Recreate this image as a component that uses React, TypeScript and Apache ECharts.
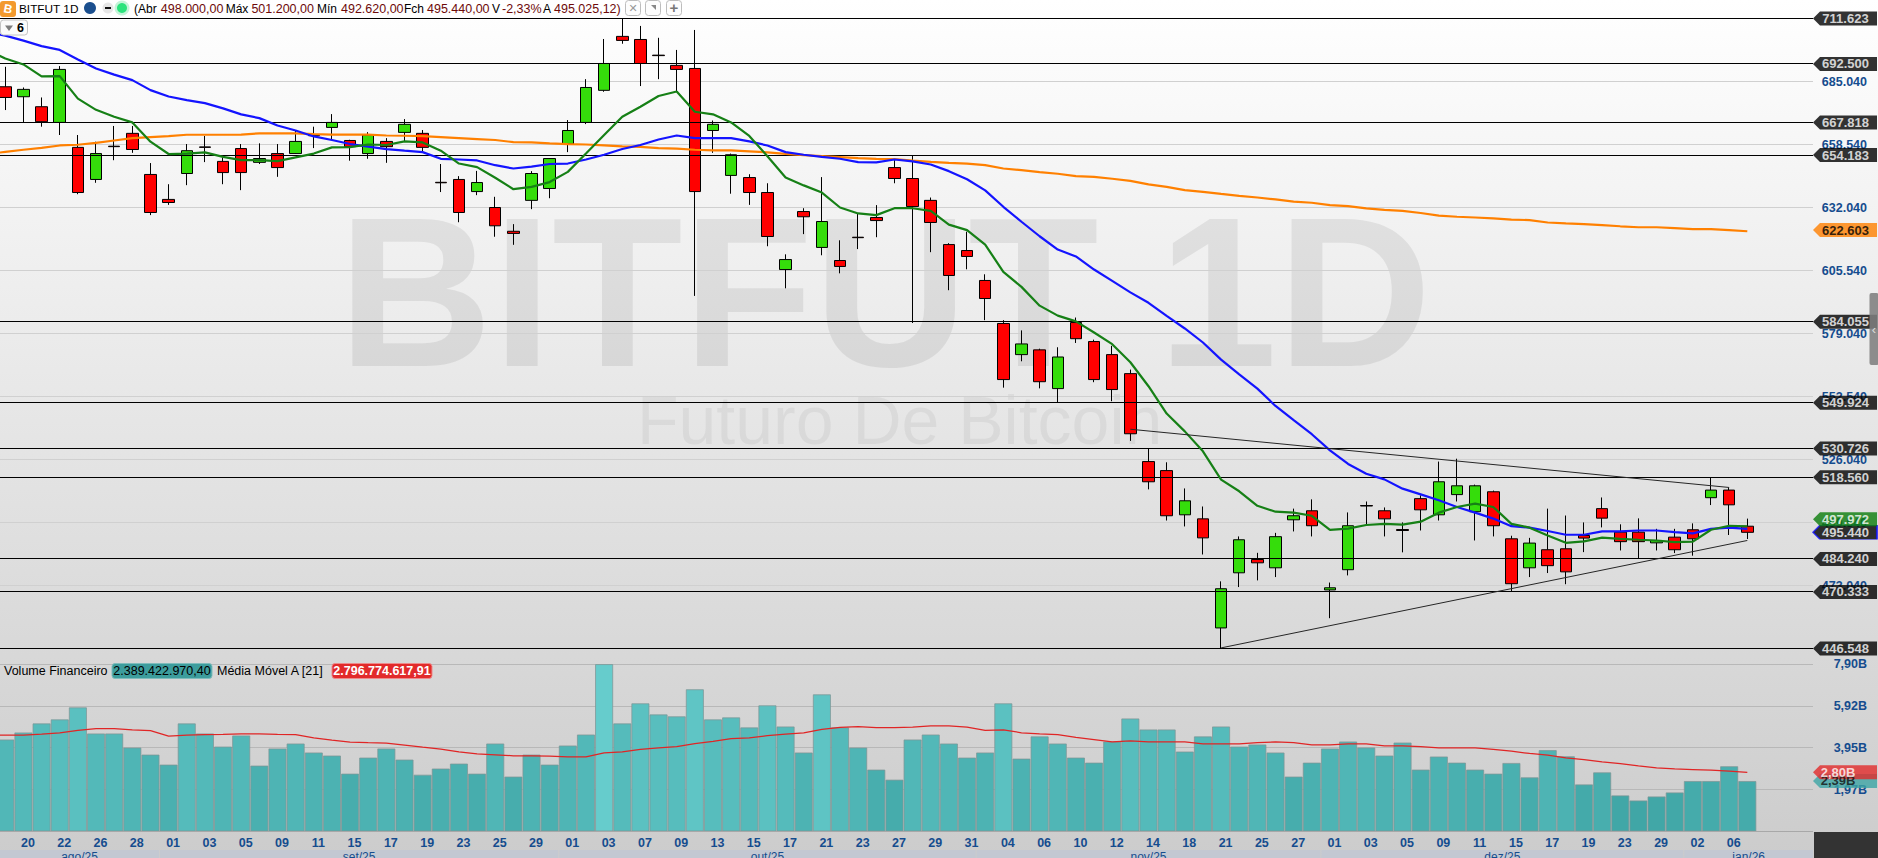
import React, { useEffect, useRef } from "react";
import * as echarts from "echarts";

const dates = ["19","20","21","22","25","26","27","28","29","01","02","03","04","05","08","09","10","11","12","15","16","17","18","19","22","23","24","25","26","29","30","01","02","03","06","07","08","09","10","13","14","15","16","17","20","21","22","23","24","27","28","29","30","31","03","04","05","06","07","10","11","12","13","14","17","18","19","21","24","25","26","27","28","01","02","03","04","05","08","09","10","11","12","15","16","17","18","19","22","23","26","29","30","02","05","06","07"];

// open, close, low, high (thousands of points)
const candles = [
[682.9,678.4,673.1,691.3],[678.7,681.8,667.9,682.6],[674.5,668.2,666.1,678.4],[667.9,690.2,662.6,691.6],[657.4,638.4,637.7,662.6],
[643.9,654.8,642.5,659.8],[657.9,657.7,652.0,666.4],[663.3,656.5,655.1,666.4],[646.0,630.0,628.9,650.8],[635.5,634.2,633.2,641.9],
[646.4,656.0,641.5,658.8],[657.6,657.4,651.2,662.2],[651.5,646.8,641.9,653.2],[656.9,646.8,639.4,658.8],[651.1,652.7,650.4,659.1],
[654.8,648.9,645.0,658.8],[654.8,659.9,654.6,664.4],[662.5,662.3,657.1,666.1],[665.8,667.9,660.7,671.4],[660.3,657.7,651.8,660.6],
[654.8,662.6,652.6,663.8],[659.9,657.7,650.9,661.3],[663.7,667.1,659.9,669.3],[663.3,657.4,655.4,664.7],[642.7,642.5,638.6,650.4],
[643.9,630.0,625.9,645.3],[638.8,642.6,637.3,647.5],[632.1,624.4,619.8,636.6],[622.1,621.2,616.4,625.1],[635.1,646.4,631.4,647.4],
[640.1,652.7,636.0,652.9],[658.8,664.5,655.4,668.9],[667.9,682.6,667.2,686.1],[681.4,692.7,680.8,703.0],[704.1,702.4,701.0,711.6],
[702.8,692.7,683.2,708.5],[696.2,696.0,686.1,703.5],[691.9,690.2,680.8,698.4],[690.6,638.8,594.9,706.8],[664.5,667.1,655.1,668.7],
[645.6,654.3,637.9,654.8],[644.7,638.4,633.2,646.1],[638.4,619.9,615.8,642.3],[606.0,610.2,598.1,612.4],[630.4,628.2,620.9,631.8],
[615.3,626.2,612.0,644.9],[609.8,607.3,604.4,618.3],[619.6,619.4,614.6,629.6],[627.9,626.6,619.6,633.1],[648.9,644.3,642.3,652.6],
[644.3,632.5,583.5,654.0],[635.1,625.8,613.3,636.3],[616.5,603.5,597.3,617.1],[614.0,611.5,606.1,621.9],[601.4,593.8,584.7,604.0],
[583.3,559.7,556.3,584.7],[570.2,574.7,567.4,580.4],[572.2,558.8,556.0,572.7],[555.9,569.2,550.1,573.3],[583.7,576.9,575.1,585.8],
[575.7,559.7,558.6,576.5],[570.2,555.5,550.6,573.9],[562.2,536.9,533.9,563.9],[525.2,516.7,513.5,530.5],[521.4,502.4,500.4,524.9],
[502.8,508.7,497.9,513.9],[501.1,493.1,486.1,506.3],[455.2,471.7,446.5,474.8],[478.4,492.3,472.4,493.7],[484.0,482.6,475.2,486.8],
[480.5,493.6,476.6,495.2],[500.7,502.4,495.8,505.4],[504.5,498.2,493.7,509.3],[471.2,472.1,459.3,474.3],[479.7,498.2,477.3,503.8],
[506.7,506.5,498.2,508.4],[504.5,501.1,493.7,505.9],[496.6,496.2,487.0,499.6],[509.6,504.9,496.2,511.0],[502.8,516.7,500.4,525.2],
[511.3,515.0,508.4,526.4],[504.1,515.0,492.0,515.5],[512.5,498.2,493.7,513.0],[492.7,473.8,470.5,494.0],[480.5,490.9,476.6,493.1],
[488.1,481.4,478.3,505.4],[488.5,478.8,473.6,502.5],[494.1,493.0,487.1,499.6],[505.4,501.4,497.5,510.1],[495.5,491.5,487.8,498.8],
[495.5,491.5,484.4,501.3],[491.0,492.0,487.8,496.9],[493.4,488.1,486.7,496.9],[496.5,492.7,485.6,499.2],[510.0,513.2,506.9,518.3],
[513.2,507.0,494.3,514.3],[498.0,495.44,492.62,501.2],
];

// the three averages also have a point one bar before the first visible candle
const maGreen = [698.4,694.8,692.3,687.3,687.4,677.9,673.2,670.3,667.9,659.8,654.6,654.8,655.3,653.4,652.0,652.0,651.6,653.2,654.8,657.4,657.5,658.6,658.4,659.9,659.5,656.0,650.6,649.1,644.6,639.8,640.8,642.8,647.1,654.8,662.6,670.3,674.5,679.0,680.9,672.4,671.3,667.9,662.2,653.7,644.7,641.4,638.4,632.1,629.6,628.9,631.8,631.8,630.7,624.9,622.6,616.5,605.0,598.7,590.8,586.6,584.2,579.5,574.6,567.0,556.9,545.4,537.9,529.5,517.6,512.7,506.6,504.1,503.7,502.4,496.5,497.0,498.5,499.0,498.7,499.9,503.7,506.1,507.5,506.1,499.0,497.4,494.1,491.0,491.6,493.2,492.7,492.3,492.0,491.3,491.5,496.5,498.2,497.97];
const maBlue = [706.0,704.4,702.3,700.0,698.4,694.4,690.6,688.0,685.7,681.5,678.8,677.3,676.0,673.8,671.3,669.7,666.6,664.5,662.0,660.5,658.8,657.7,656.7,656.0,655.4,652.6,652.3,651.9,649.9,648.5,649.3,650.4,650.6,652.3,654.3,656.7,658.4,660.7,662.4,661.3,661.3,661.3,659.9,658.2,655.4,654.3,653.4,652.6,651.2,651.1,652.3,651.5,650.2,647.4,644.0,639.3,632.4,626.1,620.0,614.4,611.5,606.0,601.2,596.4,592.0,586.5,581.2,575.3,568.1,561.9,555.9,548.6,542.6,536.7,529.9,524.2,520.1,517.7,513.8,511.4,508.9,506.1,503.7,501.2,498.0,497.4,496.0,494.4,494.4,495.8,495.8,496.2,496.2,495.5,495.0,496.9,497.4,496.9];
const maOrange = [654.6,655.5,656.4,657.2,658.2,658.5,659.3,660.3,661.3,661.7,662.1,662.7,662.7,662.7,662.8,663.3,663.3,663.3,663.0,662.8,662.8,662.8,662.4,662.3,662.1,661.7,661.3,660.9,660.5,659.6,659.5,659.1,658.8,658.6,658.2,657.8,657.6,657.1,656.9,656.4,656.1,656.1,655.7,655.3,654.7,654.1,653.7,653.3,652.9,652.6,652.5,651.8,651.3,650.9,650.6,649.9,648.5,647.8,647.0,646.3,645.3,645.0,644.2,643.3,641.8,640.8,639.4,638.7,637.8,637.0,636.3,635.5,634.6,634.1,633.1,632.7,631.7,631.1,630.7,629.8,628.7,628.2,627.9,627.5,627.0,626.8,625.8,625.4,625.1,624.7,624.2,623.8,623.8,623.4,623.0,623.0,622.6,622.1];

// in billions
const volumes = [4.355,4.687,5.115,5.305,5.875,4.64,4.64,3.975,3.64,3.167,5.115,4.64,4.02,4.545,3.12,3.93,4.165,3.74,3.595,2.74,3.5,3.93,3.405,2.69,2.98,3.215,2.74,4.165,2.6,3.64,3.167,4.07,4.59,7.92,5.115,6.065,5.54,5.45,6.73,5.305,5.4,4.925,5.97,4.97,3.74,6.49,4.925,3.975,2.93,2.455,4.355,4.59,4.165,3.5,3.74,6.065,3.45,4.5,4.165,3.5,3.26,4.26,5.35,4.83,4.83,3.785,4.5,4.97,4.02,4.12,3.74,2.6,3.26,3.93,4.26,3.975,3.595,4.21,2.93,3.55,3.26,2.93,2.74,3.245,2.565,3.85,3.56,2.23,2.8,1.71,1.47,1.66,1.85,2.39,2.39,3.09,2.39];
const volumeMA = [4.56,4.56,4.56,4.61,4.67,4.78,4.86,4.86,4.81,4.77,4.51,4.56,4.58,4.59,4.62,4.62,4.59,4.58,4.43,4.32,4.23,4.2,4.18,4.09,3.99,3.9,3.77,3.67,3.63,3.58,3.58,3.56,3.53,3.53,3.72,3.77,3.88,3.96,4.01,4.16,4.26,4.39,4.43,4.53,4.61,4.66,4.83,4.92,4.96,4.91,4.91,4.94,4.99,4.99,4.94,4.78,4.81,4.67,4.62,4.58,4.45,4.35,4.24,4.29,4.24,4.24,4.24,4.15,4.15,4.15,4.2,4.24,4.2,4.1,4.1,4.15,4.15,4.05,4.05,4.01,3.96,3.96,3.96,3.88,3.8,3.69,3.61,3.48,3.4,3.29,3.21,3.1,3.01,2.96,2.93,2.9,2.85,2.8];

const levels = [711.623,692.5,667.818,654.183,584.055,549.924,530.726,518.56,484.24,470.333,446.548];
const priceTicks = [685.04,658.54,632.04,605.54,579.04,552.54,526.04,499.54,473.04];
const volumeTicks = [7.9,5.925,3.95,1.975];
const volumeTickLabels = ["7,90B","5,92B","3,95B","1,97B"];
const trendHigh = [[62,538.8],[95,514.3]];
const trendLow = [[67,446.8],[96,492.0]];
const months = ["ago/25","set/25","out/25","nov/25","dez/25","jan/26"];
const monthStartBars = [-1,9,31,54,73,93];

const FONT = '"Liberation Sans"';
const SLOT = 18.146;
const FIRST_X = 5.3;
const LEAD = 1;
const TAIL = 3;
const PLOT_R = 1813;
const PRICE_TOP = 18.5, PRICE_H = 630;
const VOL_TOP = 653.9, VOL_H = 177.6;
const BLUE = "#154c8e";

const tagPath = "path://M0 7L7 0H64V14H7Z";

const T = (text: string, x: number, y: number, o: any = {}) => ({
  type: "text", z: o.z ?? 50, silent: true, x: 0, y: 0, rotation: 0,
  style: { text, x, y, fill: o.fill ?? "#000", fontFamily: o.family ?? FONT, fontSize: o.size ?? 12.5, fontWeight: o.weight ?? "normal", textAlign: o.align ?? "left", textVerticalAlign: "middle" },
});
const R = (x: number, y: number, w: number, h: number, fill: string, o: any = {}) => ({
  type: "rect", z: o.z ?? 49, silent: true, shape: { x, y, width: w, height: h, r: o.r ?? 0 },
  style: { fill, stroke: o.stroke, lineWidth: o.stroke ? 1 : 0, opacity: o.opacity ?? 1 },
});

const hLineSeries = (values: number[], xi: number, color: string, z: number) => ({
  type: "custom", xAxisIndex: xi, yAxisIndex: xi, z, silent: true, clip: false,
  data: values.map((v) => [0, v]),
  renderItem: (params: any, api: any) => {
    const y = Math.floor(api.coord([0, api.value(1)])[1]) + 0.5;
    const cs = params.coordSys;
    return { type: "line", shape: { x1: cs.x, y1: y, x2: cs.x + cs.width, y2: y }, style: { stroke: color, lineWidth: 1 } };
  },
});

const tagItem = (v: number, text: string, fill: string, color: string, dy = 0, extra: any = {}) => ({
  value: [1, v], symbolOffset: [32, dy],
  itemStyle: { color: fill, ...(extra.border ? { borderColor: extra.border, borderWidth: 1 } : {}) },
  label: { show: true, position: "inside", formatter: text, color, fontFamily: FONT, fontWeight: "bold", fontSize: 13, offset: extra.offset ?? [0.5, 0] },
});

const buildGraphic = () => {
  const g: any[] = [];
  // watermark
  g.push({ ...T("BITFUT 1D", 338, 291, { size: 214, weight: "bold", fill: "rgba(0,0,0,0.075)" }), z: 0 });
  g.push({ ...T("Futuro De Bitcoin", 637, 420, { size: 68, fill: "rgba(0,0,0,0.05)" }), z: 0 });
  // header
  g.push(R(0, 1, 16, 16, "#f39a2e", { r: 3 }));
  g.push({ type: "text", z: 50, silent: true, x: 8, y: 9, rotation: -0.2, style: { text: "B", x: 0, y: 0, fill: "#fff", fontFamily: FONT, fontSize: 12, fontWeight: "bold", textAlign: "center", textVerticalAlign: "middle" } });
  g.push(T("BITFUT 1D", 19, 8.5, { size: 11.8 }));
  g.push({ type: "circle", z: 49, silent: true, shape: { cx: 90, cy: 8, r: 6 }, style: { fill: "#1b4f8e" } });
  g.push({ type: "circle", z: 49, silent: true, shape: { cx: 108, cy: 8, r: 5.5 }, style: { fill: "#e6e6e6" } });
  g.push(R(105, 7, 6, 2, "#111"));
  g.push({ type: "circle", z: 49, silent: true, shape: { cx: 122, cy: 8, r: 7.5 }, style: { fill: "#c4f4d8" } });
  g.push({ type: "circle", z: 49, silent: true, shape: { cx: 122, cy: 8, r: 5 }, style: { fill: "#2be37c" } });
  const dark = "#6e0a0a";
  const header: [string, number, string][] = [["(Abr",134,"#000"],["498.000,00",160.8,dark],["Máx",225.7,"#000"],["501.200,00",251.4,dark],["Mín",317,"#000"],["492.620,00",341,dark],["Fch",404,"#000"],["495.440,00",427,dark],["V",492,"#000"],["-2,33%",502,dark],["A",543,"#000"],["495.025,12)",554,dark]];
  header.forEach(([t, x, c]) => g.push(T(t, x, 8.5, { fill: c, size: t.length < 5 ? 12 : 12.5 })));
  // toolbar buttons
  [625.5, 645.5, 666.5].forEach((x) => g.push(R(x, 0.5, 15, 15, "#fdfdfd", { stroke: "#bdbdbd", r: 3 })));
  g.push(T("✕", 633, 8, { size: 11, fill: "#999", align: "center", family: '"DejaVu Sans"' }));
  g.push({ type: "polygon", z: 50, silent: true, shape: { points: [[651, 5], [656, 5], [656, 10]] }, style: { fill: "#888" } });
  g.push(T("+", 674, 7.5, { size: 15, weight: "bold", fill: "#777", align: "center" }));
  // collapsed-indicators button
  g.push(R(0.5, 20, 27, 15, "#fbfbfb", { stroke: "#c4c4c4", r: 3 }));
  g.push({ type: "polygon", z: 50, silent: true, shape: { points: [[5, 25.5], [13, 25.5], [9, 31]] }, style: { fill: "#7d7d7d" } });
  g.push(T("6", 17, 28, { weight: "bold", size: 12.5 }));
  // volume legend
  g.push(T("Volume Financeiro", 4, 670.5, { size: 12.5 }));
  g.push(R(112, 663.5, 100, 15, "#3d9d9d", { r: 3, stroke: "#7fbcbc" }));
  g.push(T("2.389.422.970,40", 162, 671, { size: 12.5, align: "center" }));
  g.push(T("Média Móvel A [21]", 217, 670.5, { size: 12.5 }));
  g.push(R(332, 663.5, 100, 15, "#e22a2a", { r: 3, stroke: "#ee8a8a" }));
  g.push(T("2.796.774.617,91", 382, 671, { size: 12.5, align: "center", fill: "#fff", weight: "bold" }));
  // month strip
  monthStartBars.forEach((b, i) => {
    const barX = (n: number) => FIRST_X - SLOT / 2 + n * SLOT;
    const x0 = i === 0 ? 0 : barX(b) + 0.5;
    const x1 = i === months.length - 1 ? PLOT_R : barX(monthStartBars[i + 1]) - 0.5;
    g.push(R(x0, 850, x1 - x0, 8, "#c3c8d2", { z: 5 }));
    g.push(T(months[i], (x0 + x1) / 2, 857, { size: 12, fill: BLUE, align: "center", z: 6 }));
  });
  g.push(R(1814, 832, 64, 26, "#333333", { z: 5 }));
  // side handle
  g.push(R(1869.5, 293, 9, 72, "#7e7e7e", { r: 2, z: 60, opacity: 0.88 }));
  g.push(T("‹", 1874, 329, { size: 13, fill: "#ddd", align: "center", z: 61 }));
  return g;
};

function App() {
  const ref = useRef<HTMLDivElement>(null);
  useEffect(() => {
    document.body.style.margin = "0";
    document.body.style.overflow = "hidden";
    const chart = echarts.init(ref.current!, null, { renderer: "svg" });
    const left = FIRST_X - (LEAD + 0.5) * SLOT;
    const count = LEAD + dates.length + TAIL;
    const width = count * SLOT;
    const cats = [...Array(LEAD).fill(""), ...dates, ...Array(TAIL).fill("")];
    const lead = Array(LEAD).fill("-");
    const volColor = (v: number) => {
      const t = Math.max(0, Math.min(1, (v - 1.5) / 6.4));
      const mix = (a: number, b: number) => Math.round(a + (b - a) * t);
      return `rgb(${mix(64, 102)},${mix(166, 204)},${mix(166, 204)})`;
    };
    const ma = (data: number[], color: string, z: number) => ({
      type: "line", xAxisIndex: 0, yAxisIndex: 0, data, symbol: "none", z, silent: true,
      lineStyle: { color, width: 2.2 },
    });
    const trend = (pts: number[][]) => ({
      type: "line", xAxisIndex: 0, yAxisIndex: 0, symbol: "none", z: 7, silent: true,
      data: pts.map(([i, v]) => [i + LEAD, v]), lineStyle: { color: "#262626", width: 1 },
    });
    const hiddenX = (gridIndex: number) => ({ type: "value", gridIndex, min: 0, max: 1, show: false });
    const gridBase = { outerBoundsMode: "none", containLabel: false };
    chart.setOption({
      animation: false,
      backgroundColor: "transparent",
      grid: [
        { ...gridBase, left, width, top: PRICE_TOP, height: PRICE_H },
        { ...gridBase, left: 0, width: PLOT_R, top: PRICE_TOP, height: PRICE_H },
        { ...gridBase, left, width, top: VOL_TOP, height: VOL_H },
        { ...gridBase, left: 0, width: PLOT_R, top: VOL_TOP, height: VOL_H },
      ],
      xAxis: [
        { type: "category", gridIndex: 0, data: cats, show: false, boundaryGap: true },
        hiddenX(1),
        {
          type: "category", gridIndex: 2, data: cats, boundaryGap: true,
          axisLine: { show: false }, axisTick: { show: false },
          axisLabel: {
            interval: (i: number) => i >= LEAD && i < LEAD + dates.length && (i - LEAD) % 2 === 1,
            color: BLUE, fontFamily: FONT, fontSize: 12.5, fontWeight: "bold", margin: 5, padding: [0, 0, 0, 9],
          },
        },
        hiddenX(3),
      ],
      yAxis: [
        { type: "value", gridIndex: 0, min: 446.548, max: 711.623, show: false },
        {
          type: "value", gridIndex: 1, min: 446.548, max: 711.623, position: "right",
          axisLine: { show: false }, axisTick: { show: false }, splitLine: { show: false },
          axisLabel: { customValues: priceTicks, formatter: (v: number) => v.toFixed(3), color: BLUE, fontFamily: FONT, fontSize: 12.5, fontWeight: "bold", margin: 54, align: "right", padding: [2, 0, 0, 0] },
        },
        { type: "value", gridIndex: 2, min: 0, max: 8.4, show: false },
        {
          type: "value", gridIndex: 3, min: 0, max: 8.4, position: "right",
          axisLine: { show: false }, axisTick: { show: false }, splitLine: { show: false },
          axisLabel: {
            customValues: volumeTicks,
            formatter: (v: number) => volumeTickLabels[volumeTicks.indexOf(v)] ?? "",
            color: BLUE, fontFamily: FONT, fontSize: 12.5, fontWeight: "bold", margin: 54, align: "right", padding: [3, 0, 0, 0],
          },
        },
      ],
      series: [
        hLineSeries(priceTicks, 1, "#d0d0d0", 1),
        hLineSeries(volumeTicks, 3, "#b8b8b8", 1),
        hLineSeries([0], 3, "#a8a8a8", 4),
        {
          type: "candlestick", xAxisIndex: 0, yAxisIndex: 0, barWidth: 12, z: 2, silent: true,
          data: [...lead, ...candles],
          itemStyle: { color: "#35dd0b", color0: "#ff0000", borderColor: "#000", borderColor0: "#000", borderColorDoji: "#000", borderWidth: 1 },
        },
        hLineSeries(levels, 1, "#000000", 3),
        ma(maOrange, "#ff8000", 4),
        ma(maBlue, "#1414ff", 5),
        ma(maGreen, "#168016", 6),
        trend(trendHigh),
        trend(trendLow),
        {
          type: "bar", xAxisIndex: 2, yAxisIndex: 2, barCategoryGap: "0%", z: 2, silent: true,
          data: [...lead, ...volumes.map((v) => ({ value: v, itemStyle: { color: volColor(v), borderColor: "rgba(125,150,150,0.75)", borderWidth: 1 } }))],
        },
        {
          type: "line", xAxisIndex: 2, yAxisIndex: 2, data: volumeMA, symbol: "none", z: 3, silent: true,
          lineStyle: { color: "#e02525", width: 1.25 },
        },
        {
          type: "scatter", xAxisIndex: 1, yAxisIndex: 1, symbol: tagPath, symbolSize: [64, 14], z: 10, clip: false, silent: true,
          data: [
            ...levels.map((v) => tagItem(v, v.toFixed(3), "#000", "#fff")),
            tagItem(622.603, "622.603", "#ff8000", "#000"),
            tagItem(495.44, "495.440", "#000", "#fff", 0, { border: "#1414ff" }),
            tagItem(497.972, "497.972", "#0b7d0b", "#fff", -7),
          ],
        },
        {
          type: "scatter", xAxisIndex: 3, yAxisIndex: 3, symbol: tagPath, symbolSize: [64, 14], z: 10, clip: false, silent: true,
          data: [
            tagItem(2.39, "2,39B", "#3da5a5", "#111", 0, { offset: [-7, 0] }),
            tagItem(2.8, "2,80B", "#e22a2a", "#fff", 0, { offset: [-7, 0] }),
          ],
        },
      ],
      graphic: { elements: buildGraphic() },
    });
    return () => chart.dispose();
  }, []);
  return (
    <div
      ref={ref}
      style={{ width: 1878, height: 858, background: "linear-gradient(to bottom, #ffffff 0px, #cccccc 858px)" }}
    />
  );
}

export default App;
